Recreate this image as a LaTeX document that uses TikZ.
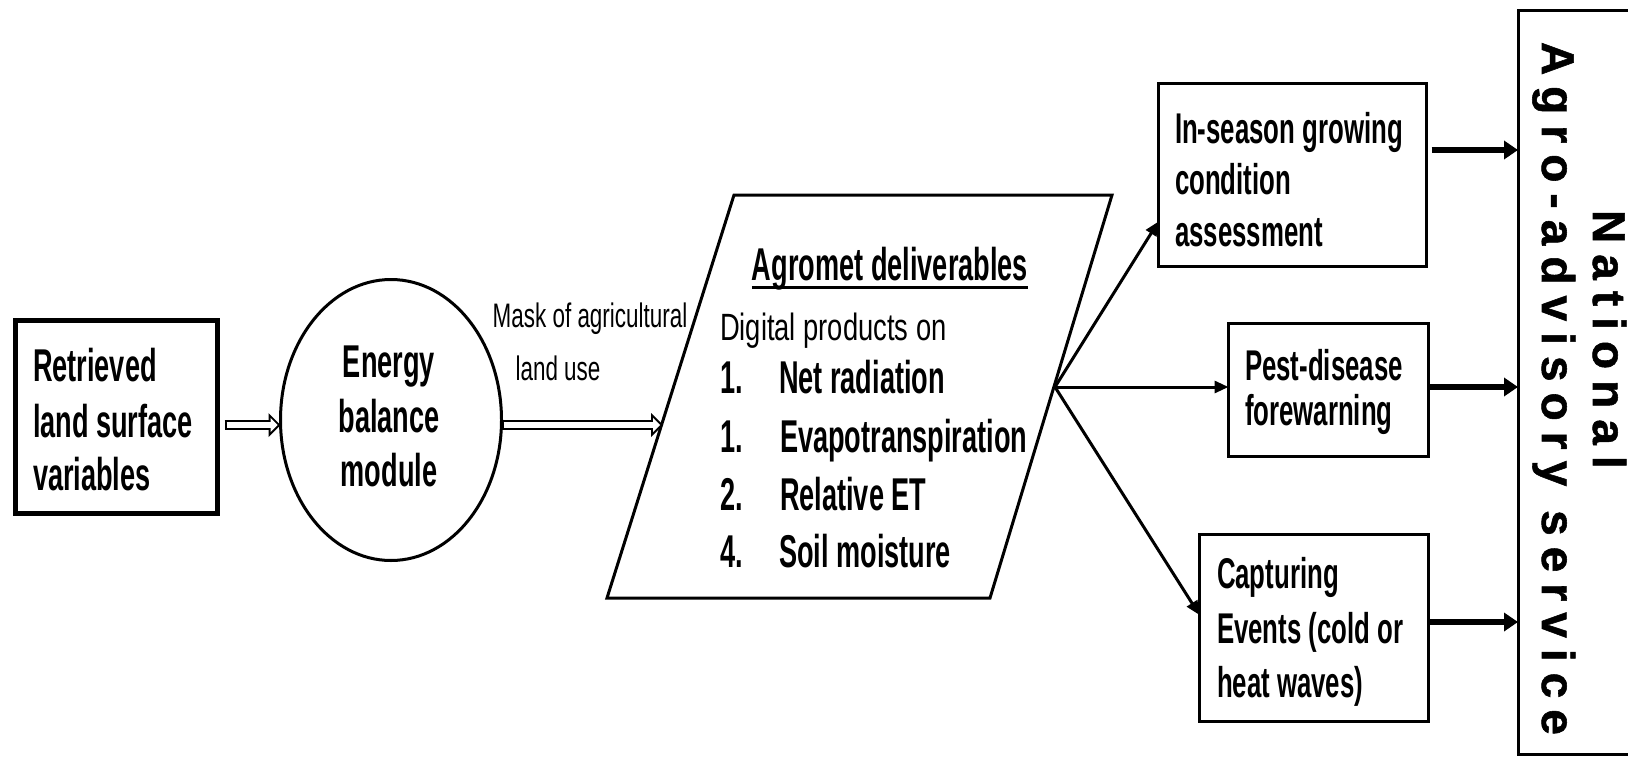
\documentclass[tikz,border=0pt]{standalone}
\usepackage{fontspec}
\setmainfont{Liberation Sans}
\newfontfamily\condbold[FakeStretch=0.59]{Liberation Sans Bold}
\newfontfamily\boxbold[FakeStretch=0.60]{Liberation Sans Bold}
\newfontfamily\condreg[FakeStretch=0.72]{Liberation Sans}
\newfontfamily\smallreg[FakeStretch=0.66]{Liberation Sans}
\newfontfamily\spacedbold[LetterSpace=24,FakeBold=1.2]{Liberation Sans Bold}
\usetikzlibrary{arrows.meta,shapes.geometric}

\begin{document}
\begin{tikzpicture}[x=1pt,y=-1pt,
  every node/.style={inner sep=0pt, outer sep=0pt},
  bigtxt/.style={font=\condbold\fontsize{46}{56}\selectfont},
  boxtxt/.style={font=\boxbold\fontsize{43}{50}\selectfont},
  thintxt/.style={font=\condreg\fontsize{38}{46}\selectfont},
  smalltxt/.style={font=\smallreg\fontsize{34}{44}\selectfont},
  sidetxt/.style={font=\spacedbold\fontsize{46}{56}\selectfont, rotate=-90, anchor=base west},
  frame/.style={draw, line width=3pt},
  % hollow arrow: black outline arrow with a white arrow laid inside it
  hollowout/.style={line width=10pt, -{Triangle[length=12pt,width=24pt,line width=0pt]}},
  hollowin/.style={white, line width=6pt, shorten <=2pt, shorten >=2.8pt,
    -{Triangle[length=7.2pt,width=14.4pt,line width=0pt]}},
  fan/.style={line width=3pt, -{Triangle[length=14pt,width=12pt]}},
  feed/.style={line width=6pt, -{Triangle[length=14pt,width=18pt]}},
]
\useasboundingbox (0,0) rectangle (1628,758);

% input box
\node[draw, line width=5pt, minimum width=202pt, minimum height=193pt] (ret) at (116.5,417) {};
\node[bigtxt, anchor=base west] (ret1) at (33,381) {Retrieved};
\node[bigtxt, anchor=base west] (ret2) at (33,437) {land surface};
\node[bigtxt, anchor=base west] (ret3) at (33,490) {variables};

% energy balance module
\node[draw, ellipse, line width=3pt, minimum width=221pt, minimum height=281pt] (ebm) at (391,420) {};
\node[bigtxt, anchor=base] (ebm1) at (389,377) {Energy};
\node[bigtxt, anchor=base] (ebm2) at (389,432) {balance};
\node[bigtxt, anchor=base] (ebm3) at (389,486) {module};

% deliverables parallelogram
\coordinate (p1) at (734,195);
\coordinate (p2) at (1112,195);
\coordinate (p3) at (990,598);
\coordinate (p4) at (607,598);
\draw[line width=3pt, line join=miter] (p1) -- (p2) -- (p3) -- (p4) -- cycle;
\coordinate (pin) at (663,425);
\coordinate (pout) at (1055,387);

\node[bigtxt, anchor=base] (agro) at (890,280) {Agromet deliverables};
\draw[line width=3pt] ([yshift=-7pt]agro.base west) -- ([yshift=-7pt]agro.base east);
\node[thintxt, anchor=base west] (dig) at (720,340) {Digital products on};
\node[bigtxt, anchor=base west] (n1) at (720,393) {1.};
\node[bigtxt, anchor=base west] (t1) at (779,393) {Net radiation};
\node[bigtxt, anchor=base west] (n2) at (720,452) {1.};
\node[bigtxt, anchor=base west] (t2) at (780,452) {Evapotranspiration};
\node[bigtxt, anchor=base west] (n3) at (720,510) {2.};
\node[bigtxt, anchor=base west] (t3) at (780,510) {Relative ET};
\node[bigtxt, anchor=base west] (n4) at (720,567) {4.};
\node[bigtxt, anchor=base west] (t4) at (779,567) {Soil moisture};

% mask label
\node[smalltxt, anchor=base] (mask1) at (590,327) {Mask of agricultural};
\node[smalltxt, anchor=base] (mask2) at (558,380) {land use};

% hollow arrows
\coordinate (h1) at ([xshift=7pt,yshift=-8pt]ret.east);
\coordinate (h1e) at (h1 -| ebm.west);
\coordinate (h2) at (ebm.east |- pin);
\draw[hollowout] (h1) -- (h1e);
\draw[hollowin] (h1) -- (h1e);
\draw[hollowout] (h2) -- (pin);
\draw[hollowin] (h2) -- (pin);

% product boxes
\node[frame, minimum width=268pt, minimum height=183pt] (gca) at (1292.5,175) {};
\node[boxtxt, anchor=base west] (gca1) at (1175,143) {In-season growing};
\node[boxtxt, anchor=base west] (gca2) at (1175,194) {condition};
\node[boxtxt, anchor=base west] (gca3) at (1175,246) {assessment};

\node[frame, minimum width=200pt, minimum height=133pt] (pdf) at (1328.5,390) {};
\node[boxtxt, anchor=base west] (pdf1) at (1245,380) {Pest-disease};
\node[boxtxt, anchor=base west] (pdf2) at (1245,425) {forewarning};

\node[frame, minimum width=229pt, minimum height=187pt] (cap) at (1314,628) {};
\node[boxtxt, anchor=base west] (cap1) at (1217,588) {Capturing};
\node[boxtxt, anchor=base west] (cap2) at (1217,643) {Events (cold or};
\node[boxtxt, anchor=base west] (cap3) at (1217,697) {heat waves)};

% fan out from deliverables
\draw[fan] (pout) -- ([yshift=45pt]gca.south west);
\draw[fan] (pout) -- (pout -| pdf.west);
\draw[fan] (pout) -- ([yshift=13pt]cap.west);

% national service box
\node[frame, minimum width=141pt, minimum height=744pt] (nas) at (1588.5,382) {};
\node[sidetxt] (nas1) at (1593,210) {National};
\node[sidetxt] (nas2) at (1542,42) {Agro-advisory service};

% feeds into the service
\coordinate (f1) at ([yshift=25pt]gca.east);
\coordinate (f2) at ([yshift=3pt]pdf.east);
\coordinate (f3) at ([yshift=6pt]cap.east);
\draw[feed] ([xshift=5pt]f1) -- (f1 -| nas.west);
\draw[feed] (f2) -- (f2 -| nas.west);
\draw[feed] (f3) -- (f3 -| nas.west);
\end{tikzpicture}
\end{document}
